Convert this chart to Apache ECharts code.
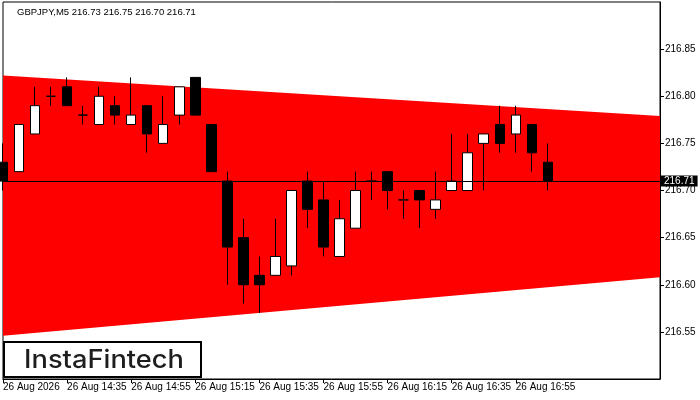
<!DOCTYPE html>
<html>
<head>
<meta charset="utf-8">
<script src="https://cdn.jsdelivr.net/npm/echarts/dist/echarts.min.js"></script>
<style>
  html, body { margin: 0; padding: 0; background: #fff; }
  #chart { width: 700px; height: 400px; }
</style>
</head>
<body>
<div id="chart"></div>
<script>
// ---- data ----
const symbolTitle = 'GBPJPY,M5';
const lastOHLC = ['216.73', '216.75', '216.70', '216.71'];
const categories = ['14:15','14:20','14:25','14:30','14:35','14:40','14:45','14:50','14:55','15:00',
  '15:05','15:10','15:15','15:20','15:25','15:30','15:35','15:40','15:45','15:50',
  '15:55','16:00','16:05','16:10','16:15','16:20','16:25','16:30','16:35','16:40',
  '16:45','16:50','16:55','17:00','17:05','17:10','17:15','17:20','17:25','17:30','17:35','17:40'];
const opens  = [216.73,216.72,216.76,216.80,216.81,216.78,216.77,216.79,216.77,216.79,
  216.75,216.78,216.82,216.77,216.71,216.65,216.61,216.61,216.62,216.71,
  216.69,216.63,216.66,216.71,216.72,216.69,216.70,216.68,216.70,216.70,
  216.75,216.77,216.76,216.77,216.73];
const highs  = [216.75,216.77,216.81,216.81,216.82,216.79,216.81,216.80,216.82,216.79,
  216.80,216.81,216.82,216.77,216.72,216.67,216.63,216.67,216.70,216.72,
  216.71,216.69,216.72,216.72,216.72,216.70,216.70,216.72,216.76,216.76,
  216.76,216.79,216.79,216.77,216.75];
const lows   = [216.70,216.72,216.76,216.79,216.79,216.77,216.77,216.77,216.77,216.74,
  216.75,216.77,216.78,216.72,216.60,216.58,216.57,216.61,216.61,216.66,
  216.63,216.63,216.66,216.69,216.68,216.67,216.66,216.67,216.70,216.70,
  216.70,216.74,216.74,216.72,216.70];
const closes = [216.71,216.77,216.79,216.80,216.79,216.78,216.80,216.78,216.78,216.76,
  216.77,216.81,216.78,216.72,216.64,216.60,216.60,216.63,216.70,216.68,
  216.64,216.67,216.70,216.71,216.70,216.69,216.69,216.69,216.71,216.74,
  216.76,216.75,216.78,216.74,216.71];
const currentPrice = 216.71;
const tickLabels = ['26 Aug 2026','26 Aug 14:35','26 Aug 14:55','26 Aug 15:15','26 Aug 15:35',
  '26 Aug 15:55','26 Aug 16:15','26 Aug 16:35','26 Aug 16:55'];
const labelEvery = 4;
const triangleUpper = [216.822, 216.779];   // at first and last category
const triangleLower = [216.546, 216.608];
const yMin = 216.50, yMax = 216.90, yStep = 0.05;
const logoText = 'InstaFintech';

// ---- build ----
const candleData = opens.map((o, i) => [o, closes[i], lows[i], highs[i]]);
const lastIdx = categories.length - 1;
const font = '"Liberation Sans", Arial, sans-serif';

const chart = echarts.init(document.getElementById('chart'), null, { renderer: 'canvas' });
chart.setOption({
  animation: false,
  backgroundColor: '#fff',
  grid: { left: 3, top: 2, right: 40, bottom: 21, show: true, borderColor: '#000', borderWidth: 1, backgroundColor: 'transparent' },
  xAxis: {
    type: 'category',
    data: categories,
    boundaryGap: false,
    axisLine: { show: true, lineStyle: { color: '#000', width: 1 } },
    axisTick: {
      show: true, length: 4, lineStyle: { color: '#000' },
      interval: (idx) => idx % labelEvery === 0 && idx / labelEvery < tickLabels.length
    },
    axisLabel: {
      interval: 0, align: 'left', margin: 3, color: '#000', fontSize: 10, fontFamily: font,
      formatter: (v, idx) => (idx % labelEvery === 0 && idx / labelEvery < tickLabels.length) ? tickLabels[idx / labelEvery] : ''
    },
    splitLine: { show: false }
  },
  yAxis: {
    type: 'value', position: 'right', min: yMin, max: yMax, interval: yStep, scale: true,
    axisLine: { show: true, lineStyle: { color: '#000', width: 1 } },
    axisTick: { show: true, length: 4, lineStyle: { color: '#000' } },
    axisLabel: { color: '#000', fontSize: 10, fontFamily: font, margin: 5, showMinLabel: false, showMaxLabel: false,
      formatter: (v) => v.toFixed(2) },
    splitLine: { show: false }
  },
  graphic: [
    { type: 'text', left: 17, top: 7, z: 100,
      style: { text: symbolTitle + ' ' + lastOHLC.join(' '), fill: '#000', font: '9.5px ' + font } },
    { type: 'group', left: 3, top: 341, z: 100, children: [
      { type: 'rect', shape: { x: 1, y: 1, width: 197, height: 35 }, style: { fill: '#fff', stroke: '#000', lineWidth: 2 } },
      { type: 'text', x: 101, y: 19, scaleX: 1.09,
        style: { text: logoText, fill: '#1e1e1e', font: '500 25px Inter, "Noto Sans", sans-serif', align: 'center', verticalAlign: 'middle' } }
    ]}
  ],
  series: [
    {
      type: 'custom',
      z: 1,
      silent: true,
      clip: true,
      data: [[0, triangleUpper[0], triangleLower[0], lastIdx, triangleUpper[1], triangleLower[1]]],
      encode: { x: [0, 3], y: [1, 2, 4, 5] },
      renderItem: (params, api) => {
        const p1 = api.coord([api.value(0), api.value(1)]);
        const p2 = api.coord([api.value(3), api.value(4)]);
        const p3 = api.coord([api.value(3), api.value(5)]);
        const p4 = api.coord([api.value(0), api.value(2)]);
        return { type: 'polygon', shape: { points: [p1, p2, p3, p4] }, style: { fill: '#ff0000' } };
      }
    },
    {
      type: 'candlestick',
      z: 3,
      data: candleData,
      barWidth: 10,
      itemStyle: { color: '#ffffff', color0: '#000000', borderColor: '#000000', borderColor0: '#000000', borderWidth: 1 },
      markLine: {
        silent: true, symbol: 'none', animation: false,
        lineStyle: { color: '#000', width: 1, type: 'solid' },
        label: { show: true, position: 'end', distance: 1, formatter: currentPrice.toFixed(2),
          color: '#fff', backgroundColor: '#000', padding: [1, 3, 0, 3], fontSize: 10, fontFamily: font },
        data: [{ yAxis: currentPrice }]
      }
    }
  ]
});
</script>
</body>
</html>
